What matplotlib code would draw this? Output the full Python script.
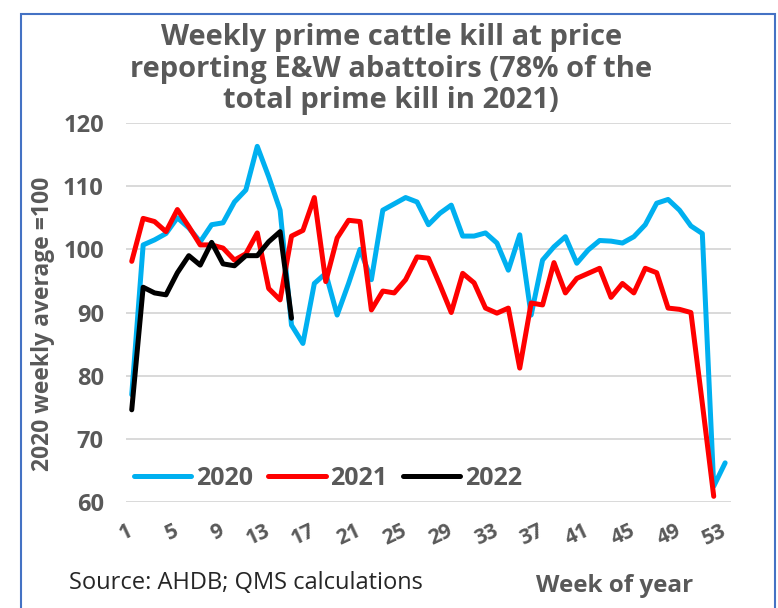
import matplotlib
matplotlib.use("Agg")
import matplotlib.pyplot as plt
from matplotlib.patches import Rectangle

plt.rcParams['font.family'] = ['Open Sans', 'DejaVu Sans']

# weekly kill index, 2020 weekly average = 100
weeks_2020 = list(range(1, 54))
kill_2020 = [77, 100.7, 101.5, 102.5, 105, 103.4, 101.2, 103.9, 104.2, 107.5,
             109.4, 116.3, 111.5, 106.2, 88.0, 85.1, 94.6, 96.2, 89.6, 94.6,
             100.0, 95.2, 106.2, 107.2, 108.2, 107.5, 103.9, 105.7, 107.0, 102.1,
             102.1, 102.6, 101.0, 96.7, 102.3, 89.6, 98.3, 100.4, 102.0, 97.8,
             99.9, 101.4, 101.3, 101.0, 102.0, 103.9, 107.3, 107.9, 106.2, 103.7,
             102.5, 62.5, 66.2]
weeks_2021 = list(range(1, 53))
kill_2021 = [98.1, 104.9, 104.4, 102.8, 106.3, 103.6, 100.7, 100.7, 100.2, 98.3,
             99.3, 102.6, 93.8, 92.0, 102.1, 103.0, 108.2, 94.9, 101.8, 104.6,
             104.4, 90.4, 93.4, 93.1, 95.2, 98.8, 98.6, 94.4, 90.0, 96.2,
             94.7, 90.7, 89.9, 90.7, 81.2, 91.5, 91.2, 97.9, 93.1, 95.4,
             96.2, 97.0, 92.4, 94.6, 93.1, 97.0, 96.3, 90.7, 90.5, 90.0,
             75.6, 60.9]
weeks_2022 = list(range(1, 16))
kill_2022 = [74.6, 94.0, 93.1, 92.8, 96.3, 99.0, 97.5, 101.1, 97.7, 97.4,
             99.0, 99.0, 101.2, 102.8, 89.1]

x_ticks = list(range(1, 54, 4))
y_ticks = list(range(60, 121, 10))

grey = '#595959'

fig = plt.figure(figsize=(7.78, 6.08), dpi=100)
ax = fig.add_axes([0.162, 0.1743, 0.7774, 0.6234])

ax.plot(weeks_2020, kill_2020, color='#00B0F0', lw=3.6, label='2020',
        solid_joinstyle='round', solid_capstyle='round')
ax.plot(weeks_2021, kill_2021, color='#FF0000', lw=3.6, label='2021',
        solid_joinstyle='round', solid_capstyle='round')
ax.plot(weeks_2022, kill_2022, color='#000000', lw=3.6, label='2022',
        solid_joinstyle='round', solid_capstyle='round')

ax.set_xlim(0.5, 53.5)
ax.set_ylim(60, 120)
ax.set_yticks(y_ticks)
ax.set_xticks(x_ticks)
ax.grid(axis='y', color='#D9D9D9', lw=1.4)
ax.set_axisbelow(True)
for s in ax.spines.values():
    s.set_visible(False)
ax.tick_params(length=0)
ax.tick_params(axis='y', pad=16, labelsize=17, labelcolor=grey)
ax.tick_params(axis='x', pad=20, labelsize=15, labelcolor=grey)
for lab in ax.get_yticklabels():
    lab.set_fontweight('bold')
for lab in ax.get_xticklabels():
    lab.set_fontweight('bold')
    lab.set_rotation(25)
    lab.set_ha('right')
    lab.set_rotation_mode('anchor')
    lab.set_va('center')

ax.set_ylabel('2020 weekly average =100', fontsize=16.5, fontweight='bold',
              color=grey)
ax.yaxis.set_label_coords(-0.118, 0.47)

leg = ax.legend(loc='center left', bbox_to_anchor=(0.0, 0.063), ncol=3,
                frameon=False, fontsize=18, handlelength=2.3, handletextpad=0.2,
                columnspacing=0.6, borderpad=0, borderaxespad=0.3)
for t in leg.get_texts():
    t.set_color(grey)
    t.set_fontweight('bold')

fig.text(0.503, 0.8865, 'Weekly prime cattle kill at price\n'
         'reporting E&W abattoirs (78% of the\ntotal prime kill in 2021)',
         ha='center', va='center', fontsize=21, fontweight='bold',
         color=grey, linespacing=1.12)

fig.text(0.089, 0.041, 'Source: AHDB; QMS calculations', fontsize=17,
         color='#262626', va='center')
fig.text(0.79, 0.036, 'Week of year', fontsize=17.5, fontweight='bold',
         color=grey, ha='center', va='center')

fig.add_artist(Rectangle((0.027, -0.1), 0.969, 1.077, transform=fig.transFigure,
                         fill=False, edgecolor='#4472C4', lw=1.5))

fig.savefig('out.png', dpi=100)
